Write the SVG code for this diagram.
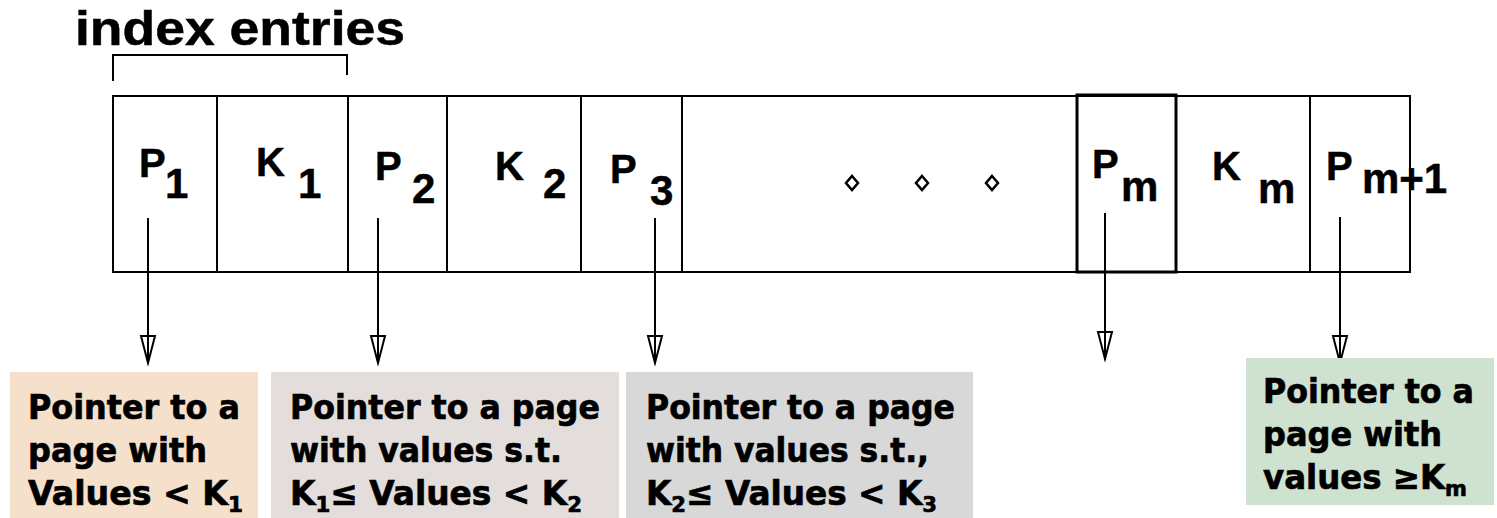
<svg xmlns="http://www.w3.org/2000/svg" width="1497" height="518" viewBox="0 0 1497 518">
<style>
.ln{stroke:#000;stroke-width:2;fill:none}
.lbl{font-family:"Liberation Sans",Arial,sans-serif;font-weight:bold;fill:#000;stroke:#000;stroke-width:0.5}
.let{font-size:40px}
.sub{font-size:42px}
.bt{font-family:"DejaVu Sans",Verdana,sans-serif;font-weight:bold;font-size:34px;fill:#000;stroke:#000;stroke-width:0.7}
.bs{font-size:22px}
.dm{stroke:#000;stroke-width:2.5;fill:#fff}
</style>
<defs>
<marker id="ah" markerWidth="32" markerHeight="18" refX="29" refY="9" orient="auto" markerUnits="userSpaceOnUse" viewBox="0 0 32 18">
<path d="M2,2 L29,9 L2,16 Z" fill="none" stroke="#000" stroke-width="2"/>
</marker>
</defs>
<rect width="1497" height="518" fill="#fff"/>
<g id="title">
<text class="lbl" x="75" y="45" font-size="48" textLength="330" lengthAdjust="spacingAndGlyphs" stroke-width="0.6">index entries</text>
<path class="ln" d="M113,81 V55 H347 V75" stroke-width="2.5"/>
</g>
<g id="node-record">
<rect class="ln" x="113" y="96" width="1297" height="176"/>
<line class="ln" x1="217" y1="96" x2="217" y2="272"/>
<line class="ln" x1="348" y1="96" x2="348" y2="272"/>
<line class="ln" x1="447" y1="96" x2="447" y2="272"/>
<line class="ln" x1="581" y1="96" x2="581" y2="272"/>
<line class="ln" x1="682" y1="96" x2="682" y2="272"/>
<line class="ln" x1="1310" y1="96" x2="1310" y2="272"/>
</g>
<g id="node-p1"><text class="lbl" x="139" y="177"><tspan class="let">P</tspan><tspan class="sub" x="165" y="198">1</tspan></text></g>
<g id="node-k1"><text class="lbl" x="256" y="176"><tspan class="let">K</tspan><tspan class="sub" x="298" y="198">1</tspan></text></g>
<g id="node-p2"><text class="lbl" x="375" y="180"><tspan class="let">P</tspan><tspan class="sub" x="412" y="203">2</tspan></text></g>
<g id="node-k2"><text class="lbl" x="495" y="180"><tspan class="let">K</tspan><tspan class="sub" x="543" y="198">2</tspan></text></g>
<g id="node-p3"><text class="lbl" x="610" y="183"><tspan class="let">P</tspan><tspan class="sub" x="650" y="205">3</tspan></text></g>
<g id="node-dots">
<path class="dm" d="M852,176 L858,183 L852,190 L846,183 Z"/>
<path class="dm" d="M922,176 L928,183 L922,190 L916,183 Z"/>
<path class="dm" d="M992,176 L998,183 L992,190 L986,183 Z"/>
</g>
<g id="node-pm">
<rect x="1077" y="95" width="99" height="177" fill="none" stroke="#000" stroke-width="3"/>
<text class="lbl" x="1092" y="178"><tspan class="let">P</tspan><tspan class="sub" x="1121" y="201">m</tspan></text>
</g>
<g id="node-km"><text class="lbl" x="1212" y="180"><tspan class="let">K</tspan><tspan class="sub" x="1258" y="203">m</tspan></text></g>
<g id="node-pm1"><text class="lbl" x="1326" y="180"><tspan class="let">P</tspan><tspan class="sub" x="1362" y="193">m+1</tspan></text></g>
<g id="connectors">
<line class="ln" x1="148" y1="218" x2="148" y2="363" marker-end="url(#ah)"/>
<line class="ln" x1="378" y1="218" x2="378" y2="363" marker-end="url(#ah)"/>
<line class="ln" x1="655" y1="218" x2="655" y2="363" marker-end="url(#ah)"/>
<line class="ln" x1="1105" y1="213" x2="1105" y2="359" marker-end="url(#ah)"/>
<line class="ln" x1="1340" y1="217" x2="1340" y2="363" marker-end="url(#ah)"/>
</g>
<g id="node-box1">
<rect x="10" y="372" width="248" height="146" fill="#F5E0CC"/>
<text class="bt" x="28" y="419" textLength="212" lengthAdjust="spacingAndGlyphs">Pointer to a</text>
<text class="bt" x="28" y="462" textLength="179" lengthAdjust="spacingAndGlyphs">page with</text>
<text class="bt" x="28" y="505" textLength="215" lengthAdjust="spacingAndGlyphs">Values &lt; K<tspan class="bs" dy="7">1</tspan></text>
</g>
<g id="node-box2">
<rect x="271" y="372" width="348" height="146" fill="#E3DEDB"/>
<text class="bt" x="290" y="419" textLength="310" lengthAdjust="spacingAndGlyphs">Pointer to a page</text>
<text class="bt" x="290" y="462" textLength="272" lengthAdjust="spacingAndGlyphs">with values s.t.</text>
<text class="bt" x="290" y="505" textLength="292" lengthAdjust="spacingAndGlyphs">K<tspan class="bs" dy="7">1</tspan><tspan dy="-7">≤ Values &lt; K</tspan><tspan class="bs" dy="7">2</tspan></text>
</g>
<g id="node-box3">
<rect x="626" y="372" width="347" height="146" fill="#D8D8D8"/>
<text class="bt" x="646" y="419" textLength="309" lengthAdjust="spacingAndGlyphs">Pointer to a page</text>
<text class="bt" x="646" y="462" textLength="283" lengthAdjust="spacingAndGlyphs">with values s.t.,</text>
<text class="bt" x="646" y="505" textLength="291" lengthAdjust="spacingAndGlyphs">K<tspan class="bs" dy="7">2</tspan><tspan dy="-7">≤ Values &lt; K</tspan><tspan class="bs" dy="7">3</tspan></text>
</g>
<g id="node-box4">
<rect x="1246" y="358" width="248" height="147" fill="#CFE2CF"/>
<text class="bt" x="1263" y="403" textLength="211" lengthAdjust="spacingAndGlyphs">Pointer to a</text>
<text class="bt" x="1263" y="446" textLength="179" lengthAdjust="spacingAndGlyphs">page with</text>
<text class="bt" x="1263" y="489" textLength="204" lengthAdjust="spacingAndGlyphs">values ≥K<tspan class="bs" dy="7">m</tspan></text>
</g>
</svg>
